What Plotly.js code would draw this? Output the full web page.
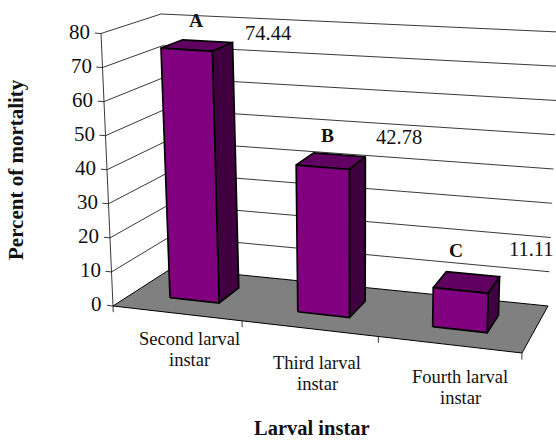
<!DOCTYPE html>
<html>
<head>
<meta charset="utf-8">
<script src="https://cdn.plot.ly/plotly-3.0.1.min.js"></script>
<style>html,body{margin:0;padding:0;background:#fff}</style>
</head>
<body>
<div id="chart" style="width:556px;height:441px"></div>
<script>
// ---- data ----
const categories = [["Second larval", "instar"], ["Third larval", "instar"], ["Fourth larval", "instar"]];
const values = [74.44, 42.78, 11.11];
const letters = ["A", "B", "C"];
const valueLabels = ["74.44", "42.78", "11.11"];
const valueTicks = [0, 10, 20, 30, 40, 50, 60, 70, 80];
const yTitle = "Percent of mortality";
const xTitle = "Larval instar";

// ---- oblique 3-D box projection (style / layout) ----
const vMax = 80;
const box = {
  fb0: [113, 306], fb1: [522, 353], bb0: [172, 268], bb1: [548, 306],
  ft0: [101, 33.5], ft1: [530, 62], bt0: [161, 14], bt1: [559, 32]
};
const warp = t => t - 0.08 * t * (1 - t);
function P(t, d, v) {
  const u = warp(t), w = v / vMax;
  const lerp = (a, b, k) => [a[0] + (b[0] - a[0]) * k, a[1] + (b[1] - a[1]) * k];
  const bottom = lerp(lerp(box.fb0, box.fb1, u), lerp(box.bb0, box.bb1, u), d);
  const top = lerp(lerp(box.ft0, box.ft1, u), lerp(box.bt0, box.bt1, u), d);
  return lerp(bottom, top, w);
}
const poly = pts => ({x: pts.map(p => p[0]), y: pts.map(p => p[1])});
const traces = [];
function line(pts, color, width) {
  traces.push({type: "scatter", mode: "lines", ...poly(pts), cliponaxis: true,
    line: {color: color, width: width}, hoverinfo: "skip", showlegend: false});
}
function face(pts, fill, width) {
  const closed = pts.concat([pts[0]]);
  traces.push({type: "scatter", mode: "lines", ...poly(closed), fill: "toself", fillcolor: fill,
    line: {color: "#000", width: width}, hoverinfo: "skip", showlegend: false});
}
// walls
valueTicks.forEach(v => {
  if (v > 0) line([P(0, 0, v), P(0, 1, v), P(1, 1, v)], "#222", 0.9);
  line([P(-0.016, 0, v), P(0, 0, v)], "#222", 0.9);
});
line([P(0, 0, 0), P(0, 0, vMax)], "#222", 0.9);
// floor
face([P(0, 0, 0), P(1, 0, 0), P(1, 1, 0), P(0, 1, 0)], "#808080", 1);
// category ticks
[0, 1, 2, 3].forEach(i => line([P(i / 3, 0, 0), P(i / 3, 0, -1.8)], "#222", 0.9));
// bars
const halfWidth = 0.065, dFront = 0.33, dBack = 0.71;
values.forEach((val, i) => {
  const c = (i + 0.5) / categories.length, a = c - halfWidth, b = c + halfWidth;
  face([P(a, dFront, val), P(b, dFront, val), P(b, dBack, val), P(a, dBack, val)], "#600060", 1.7);
  face([P(b, dFront, 0), P(b, dBack, 0), P(b, dBack, val), P(b, dFront, val)], "#400040", 1.7);
  face([P(a, dFront, 0), P(b, dFront, 0), P(b, dFront, val), P(a, dFront, val)], "#800080", 1.7);
});

// ---- text ----
const serif = "'Liberation Serif','Times New Roman',serif";
const note = (x, y, text, size, extra) => Object.assign({
  xref: "x", yref: "y", x: x, y: y, text: text, showarrow: false,
  font: {family: serif, size: size, color: "#111"},
  xanchor: "center", yanchor: "middle", align: "center"
}, extra || {});
const annotations = [];
valueTicks.forEach(v => {
  const p = P(-0.016, 0, v);
  annotations.push(note(p[0] - 2.5, p[1] - 1, String(v), 21, {xanchor: "right"}));
});
const catPos = [[189, 339], [317, 363], [460, 377]];
categories.forEach((c, i) => c.forEach((s, j) =>
  annotations.push(note(catPos[i][0], catPos[i][1] + 21 * j, s, 18.5))));
const letterPos = [[196, 20], [327, 135], [456, 250]];
letters.forEach((c, i) => annotations.push(note(letterPos[i][0], letterPos[i][1], "<b>" + c + "</b>", 19.5)));
const valuePos = [[268, 33], [399, 137], [531, 249]];
valueLabels.forEach((c, i) => annotations.push(note(valuePos[i][0], valuePos[i][1], c, 20.5)));
annotations.push(note(312, 427.5, "<b>" + xTitle + "</b>", 20.5));
annotations.push(note(16, 170, "<b>" + yTitle + "</b>", 21, {textangle: -90}));

const hidden = {visible: false, fixedrange: true};
Plotly.newPlot("chart", traces, {
  width: 556, height: 441,
  margin: {l: 0, r: 0, t: 0, b: 0},
  paper_bgcolor: "#fff", plot_bgcolor: "#fff",
  xaxis: Object.assign({range: [0, 556]}, hidden),
  yaxis: Object.assign({range: [441, 0]}, hidden),
  showlegend: false,
  annotations: annotations
}, {displayModeBar: false, staticPlot: true});
</script>
</body>
</html>
